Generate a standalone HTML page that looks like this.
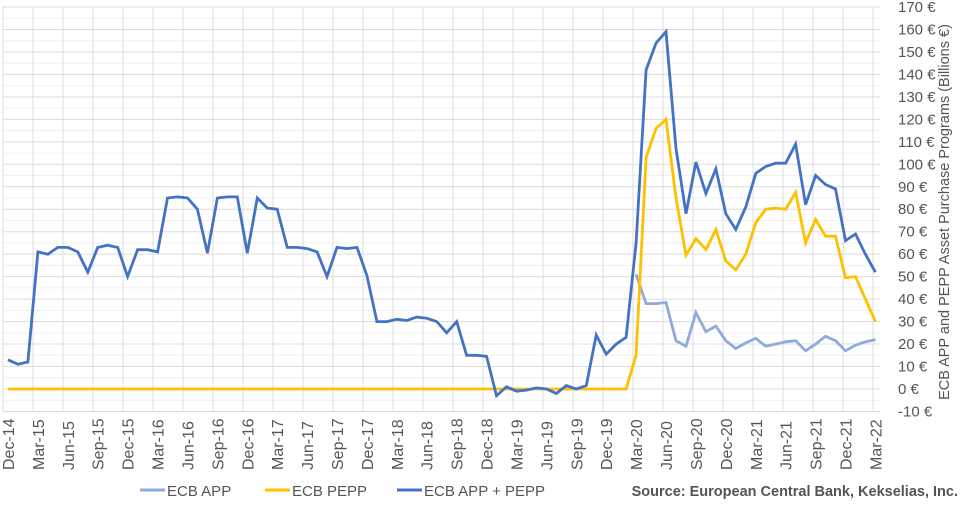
<!DOCTYPE html>
<html><head><meta charset="utf-8"><style>
body{margin:0;background:#fff;width:961px;height:503px;overflow:hidden;font-family:"Liberation Sans",sans-serif}
</style></head><body>
<svg id="s" width="961" height="503" xmlns="http://www.w3.org/2000/svg" font-family="Liberation Sans, sans-serif"></svg>
<script>
const s=document.getElementById('s');let h='';
const X=m=>8+9.97*m, Y=v=>389-v*2.247;
for(let v=-10;v<=170;v+=5){h+=`<line x1="3" x2="880" y1="${Y(v)}" y2="${Y(v)}" stroke="${v%10?'#f0f0f0':'#dcdcdc'}" stroke-width="1"/>`;}
for(let k=0;k<=29;k++){const x=3+30*k;h+=`<line x1="${x}" x2="${x}" y1="${Y(170)}" y2="${Y(-10)}" stroke="#dcdcdc"/>`;}
for(let v=-10;v<=170;v+=10){h+=`<text x="898" y="${Y(v)+5}" font-size="15" fill="#555">${v} €</text>`;}
h+=`<text transform="translate(949,212) rotate(-90)" text-anchor="middle" font-size="14.5" fill="#555">ECB APP and PEPP Asset Purchase Programs (Billions €)</text>`;
const labs=['Dec','Mar','Jun','Sep'];
for(let q=0;q<=29;q++){const mo=labs[q%4];
 const year=mo=='Dec'?14+q/4:15+Math.floor((q-1)/4);
 h+=`<text transform="translate(${X(q*3)+6},470) rotate(-90)" font-size="16" fill="#555">${mo}-${year}</text>`;}
const tot=[13,11,12,61,60,63,63,61,52,63,64,63,50,62,62,61,85,85.5,85,80,60.5,85,85.5,85.5,60.5,85,80.5,80,63,63,62.5,61,50,63,62.5,63,50.5,30,30,31,30.5,32,31.5,30,25,30,15,15,14.5,-3,1,-1,-0.5,0.5,0,-2,1.5,0,1.5,24,15.5,20,23,65,142,154,159,107,78,101,87,98,78,71,81,96,99,100.5,100.5,109,82,95,91,89,66,69,60,52];
const pepp=[15,103,116,120,85,59.5,67,62,71,57,53,60,74,80,80.5,80,87.5,65,75.5,68,68,49.5,50,40,30];
const app=[51,38,38,38.5,21.5,19,34,25.5,28,21.5,18,20.5,22.5,19,20,21,21.5,17,20,23.5,21.5,17,19.5,21,22];
const pth=(arr,off)=>arr.map((v,i)=>`${X(i+off).toFixed(1)},${Y(v).toFixed(1)}`).join(' ');
let p=[];for(let i=0;i<63;i++)p.push(0);p=p.concat(pepp);
h+=`<polyline points="${pth(app,63)}" fill="none" stroke="#8faadc" stroke-width="2.8"/>`;
h+=`<polyline points="${pth(p,0)}" fill="none" stroke="#ffc000" stroke-width="2.8"/>`;
h+=`<polyline points="${pth(tot,0)}" fill="none" stroke="#4472c4" stroke-width="2.8"/>`;
const lg=[[140,'#8faadc','ECB APP'],[265,'#ffc000','ECB PEPP'],[397,'#4472c4','ECB APP + PEPP']];
for(const [x,c,t] of lg){h+=`<line x1="${x}" x2="${x+25}" y1="490" y2="490" stroke="${c}" stroke-width="3"/><text x="${x+27}" y="496" font-size="15" fill="#555">${t}</text>`;}
h+=`<text x="958" y="496" text-anchor="end" font-size="14.5" font-weight="bold" fill="#555">Source: European Central Bank, Kekselias, Inc.</text>`;
s.innerHTML=h;
</script>
</body></html>
